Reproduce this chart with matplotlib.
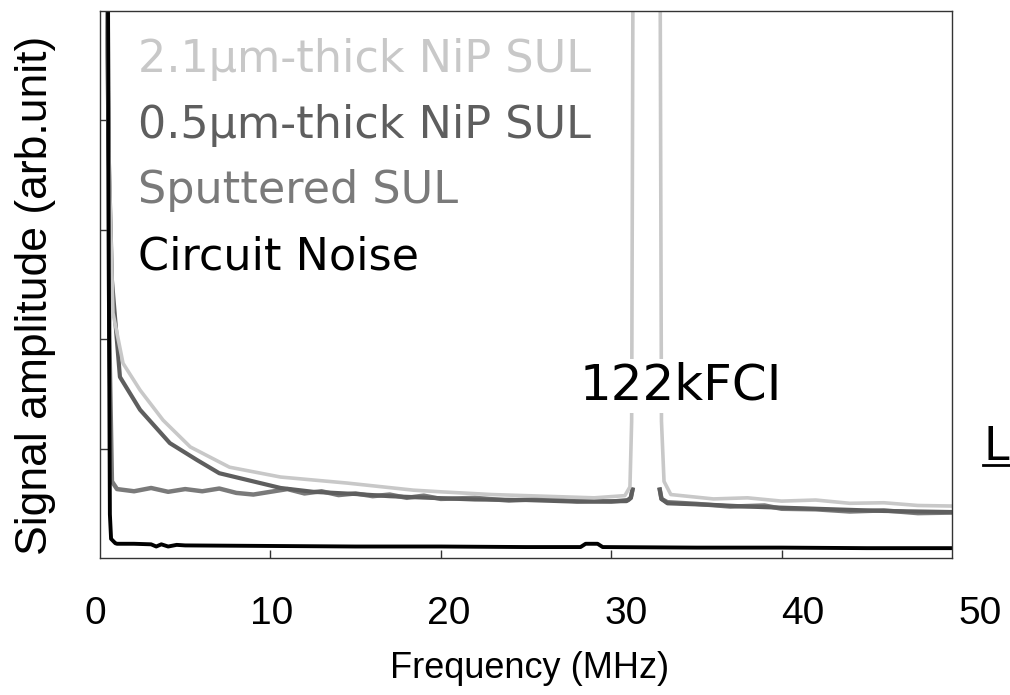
import numpy as np
import matplotlib
matplotlib.use("Agg")
import matplotlib.pyplot as plt
from matplotlib.lines import Line2D

nan = np.nan

# ---- data (frequency in MHz, amplitude in arb. units, axis 0..1)
nip21_f = [0.40, 0.55, 0.76, 1.35, 2.35, 3.7, 5.3, 7.6, 10.6, 14.5, 18.4, 20.0, 23.0, 26.0,
           29.0, 30.8, 31.1, 31.2, 31.3, 32.0, 32.85, 32.95, 33.1, 33.5, 36.0, 38.0, 40.0,
           42.0, 44.0, 46.0, 48.0, 50.0]
nip21_a = [1.05, 0.70, 0.448, 0.356, 0.307, 0.252, 0.203, 0.166, 0.148, 0.137, 0.124, 0.121,
           0.116, 0.113, 0.110, 0.114, 0.13, 0.25, 1.3, 3.0, 1.3, 0.25, 0.14, 0.116, 0.108,
           0.110, 0.104, 0.106, 0.100, 0.101, 0.096, 0.095]

# the 122kFCI peak of the darker traces is hidden under the 2.1um trace (gap = nan)
nip05_f = [0.40, 0.50, 0.70, 1.17, 2.35, 4.1, 5.7, 7.0, 8.6, 10.6, 12.5, 15.0, 17.0, 19.4,
           22.0, 25.0, 28.0, 30.9, 31.15, 31.25, 32.0, 32.85, 32.95, 33.3, 36.0, 38.0, 40.0,
           42.0, 44.0, 46.0, 48.0, 50.0]
nip05_a = [1.05, 0.75, 0.508, 0.331, 0.271, 0.210, 0.179, 0.155, 0.143, 0.128, 0.121, 0.117,
           0.113, 0.110, 0.107, 0.106, 0.103, 0.104, 0.110, 0.125, nan, 0.125, 0.108, 0.100,
           0.097, 0.094, 0.092, 0.090, 0.088, 0.086, 0.085, 0.084]

sput_f = [0.45, 0.55, 0.70, 1.0, 2.0, 3.0, 4.0, 5.0, 6.0, 7.0, 8.0, 9.0, 10.0, 11.0, 12.0,
          13.0, 14.0, 15.0, 16.0, 17.0, 18.0, 19.0, 20.0, 22.0, 24.0, 26.0, 28.0, 30.0, 31.0,
          31.15, 31.25, 32.0, 32.85, 32.95, 33.3, 35.0, 37.0, 39.0, 40.0, 42.0, 44.0, 46.0,
          48.0, 50.0]
sput_a = [1.05, 0.40, 0.14, 0.126, 0.122, 0.128, 0.121, 0.126, 0.122, 0.127, 0.119, 0.116,
          0.121, 0.126, 0.118, 0.122, 0.115, 0.118, 0.113, 0.116, 0.110, 0.114, 0.108, 0.110,
          0.105, 0.108, 0.104, 0.103, 0.106, 0.110, 0.125, nan, 0.125, 0.108, 0.102, 0.099,
          0.094, 0.096, 0.090, 0.089, 0.085, 0.087, 0.082, 0.083]

noise_f = [0.46, 0.52, 0.58, 0.65, 0.9, 1.0, 2.0, 3.0, 3.3, 3.6, 4.0, 4.5, 5.0, 10.0, 15.0,
           20.0, 25.0, 28.2, 28.5, 29.2, 29.5, 35.0, 40.0, 45.0, 50.0]
noise_a = [1.10, 0.50, 0.08, 0.035, 0.027, 0.026, 0.026, 0.025, 0.021, 0.025, 0.021, 0.024,
           0.023, 0.022, 0.021, 0.021, 0.020, 0.020, 0.026, 0.026, 0.020, 0.019, 0.019,
           0.018, 0.018]

legend_labels = ["2.1\u00b5m-thick NiP SUL", "0.5\u00b5m-thick NiP SUL",
                 "Sputtered SUL", "Circuit Noise"]
legend_colors = ["#c8c8c8", "#5e5e5e", "#7a7a7a", "#000000"]
xtick_vals = [0, 10, 20, 30, 40, 50]
xtick_labels = ["0", "10", "20", "30", "40", "50"]

W, H = 1010, 695
fig = plt.figure(figsize=(W / 100, H / 100), dpi=100)
ax = fig.add_axes([100 / W, (H - 558) / H, 852 / W, 547 / H])

ax.plot(sput_f, sput_a, color=legend_colors[2], lw=3.2)
ax.plot(nip05_f, nip05_a, color=legend_colors[1], lw=3.0)
ax.plot(nip21_f, nip21_a, color=legend_colors[0], lw=2.6)
ax.plot(noise_f, noise_a, color=legend_colors[3], lw=2.8)

ax.set_xlim(0, 50)
ax.set_ylim(0, 1)
ax.set_xticks([10, 20, 30, 40])
ax.set_yticks([0.2, 0.4, 0.6, 0.8])
ax.tick_params(direction="in", length=6, width=1, labelbottom=False, labelleft=False,
               color="#333333")
for sp in ax.spines.values():
    sp.set_linewidth(1.0)
    sp.set_color("#333333")

# tick labels of the scanned figure sit on a slightly wider scale than the ticks
lab_ax = fig.add_axes([95 / W, (H - 558) / H, 885 / W, 0.0001])
lab_ax.set_xlim(0, 50)
lab_ax.set_xticks(xtick_vals)
lab_ax.set_xticklabels(xtick_labels, fontsize=28, family="Liberation Sans")
lab_ax.tick_params(length=0, pad=27)
lab_ax.set_yticks([])
for sp in lab_ax.spines.values():
    sp.set_visible(False)
lab_ax.patch.set_visible(False)

fig.text(530 / W, 1 - 668 / H, "Frequency (MHz)", ha="center", va="center", fontsize=26,
         family="Liberation Sans")
fig.text(36 / W, 1 - 295 / H, "Signal amplitude (arb.unit)", ha="center", va="center",
         rotation=90, fontsize=32, family="Liberation Sans")

baselines = [72, 138, 203, 269]
for lbl, col, yb in zip(legend_labels, legend_colors, baselines):
    fig.text(138 / W, 1 - yb / H, lbl, color=col, fontsize=32, va="baseline",
             family="DejaVu Sans")

fig.text(580 / W, 1 - 386 / H, "122kFCI", fontsize=36, va="center", ha="left",
         family="DejaVu Sans",
         bbox=dict(facecolor="white", edgecolor="none", pad=2))

fig.text(984 / W, 1 - 460 / H, "L", fontsize=33, va="baseline", family="DejaVu Sans")
fig.add_artist(Line2D([983 / W, 1.0], [1 - 465 / H, 1 - 465 / H], color="black", lw=2,
                      transform=fig.transFigure))

fig.savefig("out.png", dpi=100)
